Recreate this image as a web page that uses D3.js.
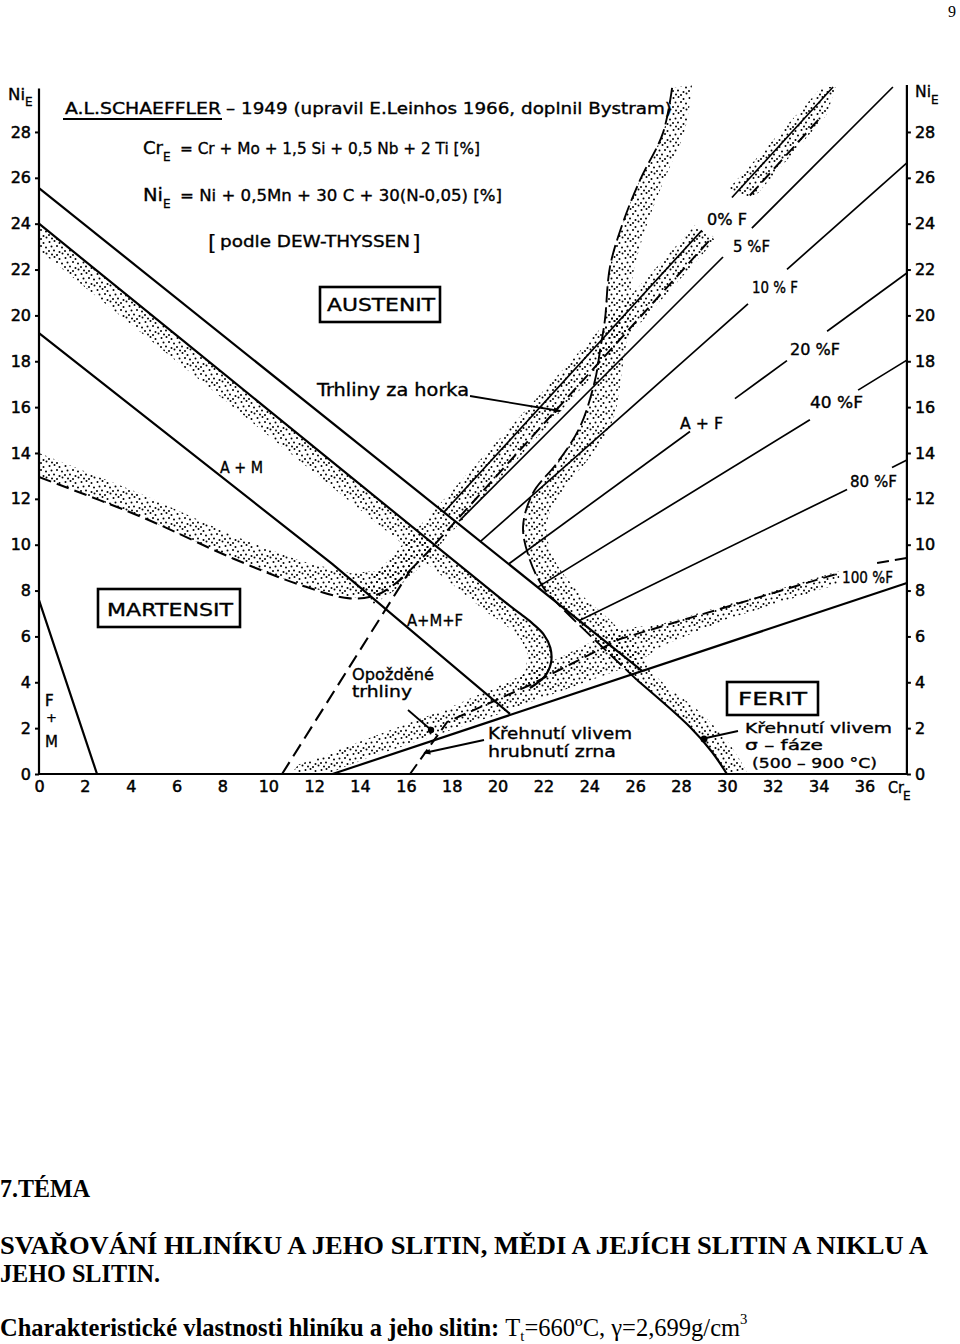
<!DOCTYPE html>
<html><head><meta charset="utf-8">
<script src="https://cdn.jsdelivr.net/npm/d3@7"></script>
<style>body{margin:0;background:#fff}svg{display:block}</style>
</head><body>
<script>
// ---------------- DATA (CrE, NiE in %) ----------------
const crTicks = d3.range(0, 37, 2);
const niTicks = d3.range(0, 29, 2);

// solid boundary lines
const lineFM   = [[0,7.58],[2.53,0]];
const lineL1   = [[0,25.55],[26.3,4.5]];
const lineL2   = [[0,24.0],[10,15.88],[20.3,7.52],[21.0,6.98],[21.54,6.55],[22.0,6.1],[22.3,5.5],[22.33,4.85],[22.05,4.25],[21.41,3.75]];
const lineL3   = [[0,19.23],[12.8,9.15],[20.54,2.62]];
const lineRise = [[12.8,0],[37.85,8.33]];

// ferrite-number lines: start, end, label gaps (CrE ranges)
const ferriteNames = ["0% F","5 %F","10 % F","20 %F","40 %F","80 %F"];
const ferriteStart = [[17.66,11.42],[18.32,11.03],[19.23,10.12],[20.48,9.16],[21.75,8.15],[23.57,6.69]];
const ferriteEnd   = [[34.63,29.96],[37.24,29.96],[37.85,26.65],[37.85,21.85],[37.85,18.05],[37.85,13.69]];
const ferriteGaps  = [[[28.91,30.22]],[[29.83,31.09]],[[30.92,32.62]],[[28.39,30.35],[32.62,34.37]],[[33.62,35.72]],[[35.24,37.2]]];

// dashed lines
const dashMartensite = [[0,12.95],[4.5,11.2],[8.46,9.4],[11.38,8.25],[13.56,7.66],[14.7,7.8],[15.6,8.35],[16.2,8.9]];
const dashSteep      = [[10.6,0],[16.2,8.9]];
const dashHotLow     = [[16.2,8.9],[16.92,9.64],[29.39,23.44]];
const dashHotHigh    = [[31.0,25.23],[34.06,28.61]];
const dashGrainLow   = [[16.18,0],[17.8,2.27],[21.41,3.88],[25.34,5.89],[34.93,8.77]];
const dashGrainHigh  = [[36.55,9.2],[37.85,9.42]];
const sigmaLeftDash  = [[27.61,29.92],[27.21,27.95],[26.21,25.9],[25.43,23.94],[24.9,22.11],[24.68,19.8],[24.47,18.49],[24.25,17.18],[23.59,15.13],[22.59,13.56],[21.54,12.25],[21.11,10.77],[21.41,9.33],[21.98,8.16],[22.59,7.46],[24.47,5.63],[26.08,4.1]];
const sigmaLeftSolid = [[26.08,4.1],[28.39,2.05],[29.35,0.96],[30.0,0]];
const sigmaRight     = [[28.48,30.05],[28.17,28.09],[27.17,25.69],[26.43,23.72],[25.86,21.54],[25.69,19.36],[25.43,17.62],[25.03,15.44],[24.03,13.82],[22.85,12.39],[22.15,10.95],[22.42,9.46],[23.46,8.02],[25.03,6.59],[26.21,5.28],[27.08,4.1],[28.83,2.7],[30.14,1.26],[30.92,0]];

// stippled zones (polygons)
const bandL2   = [[0,24.0],[10,15.88],[20.3,7.52],[21.0,6.98],[21.54,6.55],[22.0,6.1],[22.3,5.5],[22.33,4.85],[22.05,4.25],[21.41,3.75],[20.9,4.0],[21.25,4.6],[21.3,5.3],[21.0,5.9],[20.3,6.55],[19.6,7.0],[0,22.85]];
const bandMart = [[0,14.0],[4.5,12.2],[8.46,10.4],[11.38,9.3],[13.56,8.75],[14.7,8.85],[15.5,9.3],[16.2,9.9],[16.4,9.3],[16.2,8.9],[15.6,8.35],[14.7,7.8],[13.56,7.66],[11.38,8.25],[8.46,9.4],[4.5,11.2],[0,12.95]];
const bandHotLow  = [[14.0,7.98],[28.6,23.92],[29.5,23.29],[16.6,9.01],[15.5,8.0],[14.6,7.4]];
const bandHotHigh = [[30.05,25.5],[34.15,29.96],[34.75,29.96],[34.35,28.75],[31.15,25.1]];
const bandRise = [[11.0,0],[11.3,0.4],[17.8,2.85],[21.4,4.45],[25.3,6.35],[27,6.5],[30,7.38],[34.9,8.85],[34.9,8.3],[30,6.75],[27.2,5.6],[26.0,4.8],[20,2.6],[14.5,0.75],[13.3,0.3],[12.6,0]];

// ---------------- DRAWING ----------------
const FONT = "'DejaVu Sans', 'Noto Sans', sans-serif";
const svg = d3.select("body").append("svg").attr("width",960).attr("height",1344);
svg.append("rect").attr("width",960).attr("height",1344).attr("fill","#fff");

const x = d3.scaleLinear().domain([0,36]).range([39, 39+36*22.93]);
const y = d3.scaleLinear().domain([0,28]).range([774, 774-28*22.93]);

const defs = svg.append("defs");
const pat = defs.append("pattern").attr("id","dots").attr("width",16).attr("height",16).attr("patternUnits","userSpaceOnUse");
[[1.5,2],[6.5,1],[11.5,3],[3.5,6.5],[9,6],[14,7.5],[1,11],[6,10.5],[11.5,12],[4,14.5],[9,15],[14.5,13.5]].forEach(p=>
  pat.append("circle").attr("cx",p[0]).attr("cy",p[1]).attr("r",1.0).attr("fill","#000"));
defs.append("marker").attr("id","arr").attr("viewBox","0 0 10 10").attr("refX",9).attr("refY",5)
  .attr("markerWidth",9).attr("markerHeight",7).attr("orient","auto").attr("markerUnits","userSpaceOnUse")
  .append("path").attr("d","M0,1 L10,5 L0,9 Z").attr("fill","#000");

const lin = d3.line().x(d=>x(d[0])).y(d=>y(d[1]));
const crv = d3.line().x(d=>x(d[0])).y(d=>y(d[1])).curve(d3.curveCatmullRom.alpha(0.5));
const poly = d3.line().x(d=>x(d[0])).y(d=>y(d[1])).curve(d3.curveLinearClosed);

// bands
const gB = svg.append("g");
[bandL2, bandMart, bandHotLow, bandHotHigh, bandRise].forEach(b=>
  gB.append("path").attr("d",poly(b)).attr("fill","url(#dots)"));
const sigPath = crv(sigmaLeftDash.concat(sigmaLeftSolid.slice(1))) + "L" + crv(sigmaRight.slice().reverse()).slice(1) + "Z";
gB.append("path").attr("d",sigPath).attr("fill","url(#dots)");

// lines
const gL = svg.append("g").attr("fill","none").attr("stroke","#000").attr("stroke-linecap","butt");
[lineFM, lineL1, lineL3, lineRise].forEach(l=>gL.append("path").attr("d",lin(l)).attr("stroke-width",2.2));
gL.append("path").attr("d",crv(lineL2)).attr("stroke-width",2.2);

ferriteStart.forEach((s,i)=>{
  const e = ferriteEnd[i];
  const f = X => s[1] + (e[1]-s[1])*(X-s[0])/(e[0]-s[0]);
  let xs = [s[0]];
  ferriteGaps[i].forEach(g=>{ xs.push(g[0]); xs.push(g[1]); });
  xs.push(e[0]);
  for (let k=0;k<xs.length;k+=2){
    gL.append("path").attr("d",lin([[xs[k],f(xs[k])],[xs[k+1],f(xs[k+1])]])).attr("stroke-width",1.7);
  }
});

gL.append("path").attr("d",crv(dashMartensite)).attr("stroke-width",2.1).attr("stroke-dasharray","13,6");
gL.append("path").attr("d",lin(dashSteep)).attr("stroke-width",2.1).attr("stroke-dasharray","14,7");
[dashHotLow, dashHotHigh].forEach(l=>gL.append("path").attr("d",lin(l)).attr("stroke-width",2).attr("stroke-dasharray","12,6"));
[dashGrainLow, dashGrainHigh].forEach(l=>gL.append("path").attr("d",lin(l)).attr("stroke-width",2).attr("stroke-dasharray","12,6"));
gL.append("path").attr("d",crv(sigmaLeftDash)).attr("stroke-width",1.9).attr("stroke-dasharray","16,5");
gL.append("path").attr("d",crv(sigmaLeftSolid)).attr("stroke-width",2.2);

// axes
const gA = svg.append("g");
gA.append("line").attr("x1",x(0)).attr("x2",x(0)).attr("y1",y(0)).attr("y2",y(29.9)).attr("stroke","#000").attr("stroke-width",2.2);
gA.append("line").attr("x1",x(0)-1).attr("x2",x(37.85)+1).attr("y1",y(0)).attr("y2",y(0)).attr("stroke","#000").attr("stroke-width",2.2);
gA.append("line").attr("x1",x(37.85)).attr("x2",x(37.85)).attr("y1",y(0)).attr("y2",y(30.05)).attr("stroke","#000").attr("stroke-width",2.2);

function styleAxis(g){
  g.select(".domain").remove();
  g.selectAll("text").attr("font-family",FONT).attr("font-size",16).attr("fill","#000")
   .attr("stroke","#000").attr("stroke-width",0.5);
  g.selectAll("line").attr("stroke","#000").attr("stroke-width",2);
}
svg.append("g").attr("transform",`translate(${x(0)},0)`)
  .call(d3.axisLeft(y).tickValues(niTicks).tickSize(4).tickPadding(4)).call(styleAxis);
svg.append("g").attr("transform",`translate(${x(37.85)},0)`)
  .call(d3.axisRight(y).tickValues(niTicks).tickSize(4).tickPadding(4)).call(styleAxis);
svg.append("g").attr("transform",`translate(0,${y(0)})`)
  .call(d3.axisBottom(x).tickValues(crTicks).tickSize(0).tickPadding(7)).call(styleAxis);

// text helper
function T(str, px, py, size, width, opt={}){
  const t = svg.append("text").attr("x",px).attr("y",py).attr("font-family",opt.family||FONT)
    .attr("font-size",size).attr("fill","#000").text(str);
  if (!opt.noStroke) t.attr("stroke","#000").attr("stroke-width",opt.sw||0.35);
  if (width) t.attr("textLength",width).attr("lengthAdjust",opt.adjust||"spacingAndGlyphs");
  if (opt.weight) t.attr("font-weight",opt.weight);
  if (opt.anchor) t.attr("text-anchor",opt.anchor);
  return t;
}
// axis titles
T("Ni",8,100,15,17); T("E",25,106,12);
T("Ni",915,97,15,16); T("E",931,104,12);
T("Cr",888,793,15,16); T("E",903,800,12);

// header
T("A.L.SCHAEFFLER",65,114,16,156);
svg.append("line").attr("x1",63).attr("x2",222).attr("y1",119).attr("y2",119).attr("stroke","#000").attr("stroke-width",2.2);
T("– 1949  (upravil E.Leinhos 1966, doplnil Bystram)",226,114,16,446);
T("Cr",143,154,17,20); T("E",163,161,12);
T("=  Cr + Mo + 1,5 Si + 0,5 Nb + 2 Ti   [%]",180,154,16,300);
T("Ni",143,201,17,20); T("E",163,208,12);
T("=  Ni + 0,5Mn + 30 C  +  30(N-0,05) [%]",180,201,16,322);
T("[",208,250,22,null,{sw:0.2}); T("podle DEW-THYSSEN",220,247,16,190); T("]",412,250,22,null,{sw:0.2});

// boxed region labels
[[320,287,120,35],[98,589,142,38],[727,682,91,33]].forEach(r=>
  svg.append("rect").attr("x",r[0]).attr("y",r[1]).attr("width",r[2]).attr("height",r[3])
    .attr("fill","none").attr("stroke","#000").attr("stroke-width",2.6));
T("AUSTENIT",327,311,17,108);
T("MARTENSIT",107,616,17,126);
T("FERIT",738,705,17,69);

// region / zone labels
T("Trhliny za horka",317,396,17,152);
T("A + M",220,473,16,43);
T("A+M+F",407,626,16,56);
T("Opožděné",352,680,16,82);
T("trhliny",352,697,16,60);
T("Křehnutí vlivem",488,739,16,144);
T("hrubnutí zrna",488,757,16,128);
T("A + F",680,429,16,43);
T("Křehnutí vlivem",745,733,14,147);
T("σ – fáze",745,750,14,78);
T("(500 – 900 °C)",752,768,14,125);
T("F",45,706,15,null,{sw:0.5}); T("+",46,722,13); T("M",45,747,15);

// ferrite labels
const ferriteLabelPos = [[707,225,40],[733,252,37],[752,293,46],[790,355,50],[810,408,53],[850,487,47]];
ferriteNames.forEach((n,i)=>T(n,ferriteLabelPos[i][0],ferriteLabelPos[i][1],15,ferriteLabelPos[i][2]));
T("100 %F",842,583,15,51);

// arrows
svg.append("line").attr("x1",470).attr("y1",396).attr("x2",560).attr("y2",411).attr("stroke","#000").attr("stroke-width",1.8).attr("marker-end","url(#arr)");
svg.append("line").attr("x1",408).attr("y1",710).attr("x2",430).attr("y2",729).attr("stroke","#000").attr("stroke-width",1.8);
svg.append("circle").attr("cx",431).attr("cy",730).attr("r",3.2).attr("fill","#000");
svg.append("line").attr("x1",484).attr("y1",740).attr("x2",424).attr("y2",753).attr("stroke","#000").attr("stroke-width",1.8).attr("marker-end","url(#arr)");
svg.append("line").attr("x1",738).attr("y1",731).attr("x2",706).attr("y2",738).attr("stroke","#000").attr("stroke-width",1.8);
svg.append("circle").attr("cx",704).attr("cy",739).attr("r",3.5).attr("fill","#000");

// page text
const SERIF = "'Liberation Serif','Times New Roman',serif";
T("9",948,17,16,null,{family:SERIF,noStroke:true});
T("7.TÉMA",0,1197,25,90,{family:SERIF,weight:"bold",noStroke:true});
T("SVAŘOVÁNÍ  HLINÍKU  A  JEHO  SLITIN, MĚDI  A  JEJÍCH  SLITIN  A  NIKLU  A",0,1254,25,928,{family:SERIF,weight:"bold",noStroke:true});
T("JEHO  SLITIN.",0,1282,25,160,{family:SERIF,weight:"bold",noStroke:true});
const gLast = svg.append("g");
const tt = gLast.append("text").attr("x",0).attr("y",0).attr("font-family",SERIF).attr("font-size",25).attr("fill","#000");
tt.append("tspan").attr("font-weight","bold").text("Charakteristické vlastnosti hliníku a jeho slitin: ");
tt.append("tspan").text("T");
tt.append("tspan").attr("font-size",15).attr("dy",5).text("t");
tt.append("tspan").attr("dy",-5).text("=660ºC, γ=2,699g/cm");
tt.append("tspan").attr("font-size",15).attr("dy",-12).text("3");
const natural = tt.node().getComputedTextLength() || 870;
gLast.attr("transform",`translate(0,1336) scale(${748/natural},1)`);
</script>
</body></html>
